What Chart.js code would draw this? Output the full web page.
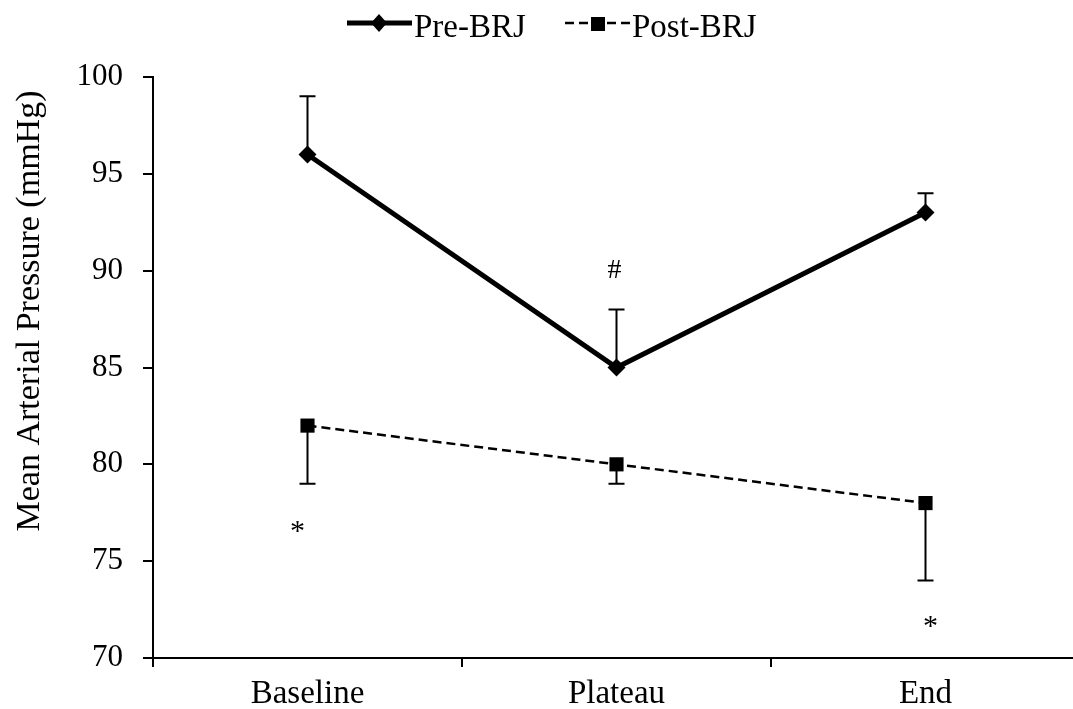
<!DOCTYPE html>
<html>
<head>
<meta charset="utf-8">
<script src="https://cdn.jsdelivr.net/npm/chart.js@4"></script>
<style>
  html, body { margin: 0; padding: 0; background: #fff; overflow: hidden; }
  #wrap { width: 1090px; height: 709px; }
</style>
</head>
<body>
<div id="wrap"><canvas id="chart"></canvas></div>
<script>
// data
const categories = ["Baseline", "Plateau", "End"];
const preBRJ = [96, 85, 93];
const preErrUp = [3, 3, 1];      // upper error bars only
const postBRJ = [82, 80, 78];
const postErrDown = [3, 1, 4];   // lower error bars only
// significance marks: category index, y value, text
const markIndex = [1, 0, 2];
const markValue = [90.0, 76.7, 71.8];
const markText = ["#", "*", "*"];
const yTicks = [70, 75, 80, 85, 90, 95, 100];
const yTitle = "Mean Arterial Pressure (mmHg)";

const serif = "'Liberation Serif', 'Times New Roman', serif";

// error bars, marks, axis title and the legend
const extras = {
  id: "extras",
  afterDatasetsDraw(chart) {
    const ctx = chart.ctx;
    const x = chart.scales.x, y = chart.scales.y;
    ctx.save();
    ctx.strokeStyle = "#000";
    ctx.fillStyle = "#000";
    ctx.lineWidth = 2;
    ctx.setLineDash([]);
    const cap = 8;
    function bar(i, from, to) {
      const px = x.getPixelForValue(i);
      const y0 = y.getPixelForValue(from), y1 = y.getPixelForValue(to);
      ctx.beginPath();
      ctx.moveTo(px, y0); ctx.lineTo(px, y1);
      ctx.moveTo(px - cap, y1); ctx.lineTo(px + cap, y1);
      ctx.stroke();
    }
    preBRJ.forEach((v, i) => bar(i, v, v + preErrUp[i]));
    postBRJ.forEach((v, i) => bar(i, v, v - postErrDown[i]));

    ctx.textAlign = "center";
    ctx.textBaseline = "middle";
    markText.forEach((t, k) => {
      const i = markIndex[k];
      let px = x.getPixelForValue(i), py = y.getPixelForValue(markValue[k]);
      if (t === "*") {
        px += (i === 0 ? -10 : 5);
        py += 4;
        ctx.font = "30px " + serif;
      } else {
        px -= 2;
        ctx.font = "28px " + serif;
      }
      ctx.fillText(t, px, py);
    });

    // rotated y axis title
    ctx.save();
    ctx.translate(30, 311);
    ctx.rotate(-Math.PI / 2);
    ctx.font = "34px " + serif;
    ctx.fillText(yTitle, 0, 0);
    ctx.restore();

    // legend
    ctx.font = "33px " + serif;
    ctx.textAlign = "left";
    ctx.textBaseline = "middle";
    // Pre-BRJ: solid thick line with diamond
    ctx.lineWidth = 5;
    ctx.beginPath(); ctx.moveTo(347, 23); ctx.lineTo(412, 23); ctx.stroke();
    ctx.beginPath();
    ctx.moveTo(379, 14); ctx.lineTo(387, 23); ctx.lineTo(379, 32); ctx.lineTo(371, 23);
    ctx.closePath(); ctx.fill();
    ctx.fillText("Pre-BRJ", 414, 28);
    // Post-BRJ: dashed line with square
    ctx.lineWidth = 2.5;
    ctx.setLineDash([9, 5]);
    ctx.beginPath(); ctx.moveTo(565, 23); ctx.lineTo(630, 23); ctx.stroke();
    ctx.setLineDash([]);
    ctx.fillRect(591, 17, 14, 14);
    ctx.fillText("Post-BRJ", 632, 28);
    ctx.restore();
  }
};

new Chart(document.getElementById("chart"), {
  type: "line",
  data: {
    labels: categories,
    datasets: [
      {
        label: "Pre-BRJ",
        data: preBRJ,
        borderColor: "#000",
        backgroundColor: "#000",
        borderWidth: 5,
        pointStyle: "rectRot",
        pointRadius: 9,
        pointBorderWidth: 0,
        tension: 0
      },
      {
        label: "Post-BRJ",
        data: postBRJ,
        borderColor: "#000",
        backgroundColor: "#000",
        borderWidth: 2.5,
        borderDash: [9, 5],
        pointStyle: "rect",
        pointRadius: 10,
        pointBorderWidth: 0,
        tension: 0
      }
    ]
  },
  options: {
    responsive: true,
    maintainAspectRatio: false,
    animation: false,
    layout: { padding: { top: 77, right: 5, left: 0, bottom: 0 } },
    plugins: {
      legend: { display: false },
      tooltip: { enabled: false }
    },
    scales: {
      x: {
        offset: true,
        afterFit: (s) => { s.height = 51; },
        border: { color: "#000", width: 2 },
        grid: { display: true, drawOnChartArea: false, offset: true, tickLength: 9, color: "#000", lineWidth: 2 },
        ticks: { color: "#000", font: { family: serif, size: 33 }, padding: 8 }
      },
      y: {
        min: 70,
        max: 100,
        afterFit: (s) => { s.width = 153; },
        afterBuildTicks: (s) => { s.ticks = yTicks.map(v => ({ value: v })); },
        border: { color: "#000", width: 2 },
        grid: { display: true, drawOnChartArea: false, tickLength: 10, color: "#000", lineWidth: 2 },
        ticks: { color: "#000", font: { family: serif, size: 31 }, padding: 20 }
      }
    }
  },
  plugins: [extras]
});
</script>
</body>
</html>
